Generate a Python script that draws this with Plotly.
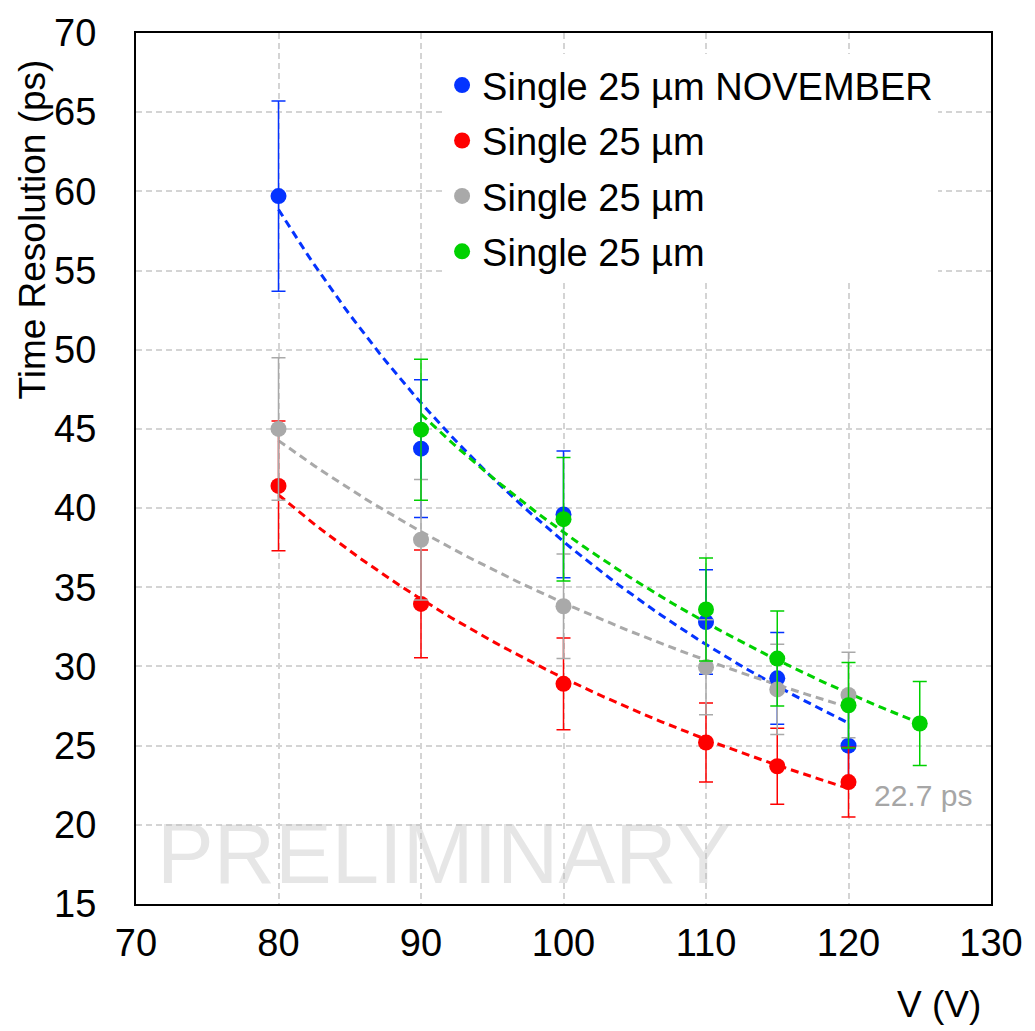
import numpy as np
import plotly.graph_objects as go

# ---- data ----
blue_x = [80, 90, 100, 110, 115, 120]
blue_y = [59.7, 43.75, 39.6, 32.8, 29.25, 25.0]
blue_err = [6.0, 4.35, 4.0, 3.3, 2.9, 2.5]

red_x = [80, 90, 100, 110, 115, 120]
red_y = [41.4, 33.95, 28.9, 25.2, 23.7, 22.7]
red_err = [4.1, 3.4, 2.9, 2.5, 2.4, 2.2]

gray_x = [80, 90, 100, 110, 115, 120]
gray_y = [45.0, 38.0, 33.8, 29.95, 28.55, 28.2]
gray_err = [4.5, 3.8, 3.3, 3.0, 2.85, 2.7]

green_x = [90, 100, 110, 115, 120, 125]
green_y = [44.95, 39.3, 33.6, 30.5, 27.55, 26.4]
green_err = [4.45, 3.9, 3.25, 3.0, 2.7, 2.65]

names = ["Single 25 µm NOVEMBER", "Single 25 µm", "Single 25 µm", "Single 25 µm"]
colors = ["#0433ff", "#fe0000", "#a9a9a9", "#00d100"]

x_ticks = [70, 80, 90, 100, 110, 120, 130]
y_ticks = [15, 20, 25, 30, 35, 40, 45, 50, 55, 60, 65, 70]

FONT = "Liberation Sans"

series = [
    (blue_x, blue_y, blue_err),
    (red_x, red_y, red_err),
    (gray_x, gray_y, gray_err),
    (green_x, green_y, green_err),
]

fig = go.Figure()

# power-law trend lines (fit in log-log space, like a spreadsheet power trendline)
for (xs, ys, _), col in zip(series, colors):
    lx = np.log(np.array(xs, float))
    ly = np.log(np.array(ys, float))
    b, a = np.polyfit(lx, ly, 1)
    xf = np.linspace(min(xs), max(xs), 80)
    yf = np.exp(a) * xf ** b
    fig.add_trace(go.Scatter(
        x=xf, y=yf, mode="lines", showlegend=False, hoverinfo="skip",
        line=dict(color=col, width=3, dash="8px,5px"),
    ))

# data points with error bars
for (xs, ys, es), col, nm in zip(series, colors, names):
    fig.add_trace(go.Scatter(
        x=xs, y=ys, mode="markers", name=nm, showlegend=False,
        marker=dict(color=col, size=16),
        error_y=dict(type="data", array=es, visible=True, color=col,
                     thickness=1.5, width=7),
    ))

# legend entries
for i, (col, nm) in enumerate(zip(colors, names)):
    fig.add_trace(go.Scatter(
        x=[None], y=[None], mode="markers", name=nm, legendgroup=f"g{i}",
        marker=dict(color=col, size=16),
    ))

axis_common = dict(
    showline=True, linecolor="black", linewidth=2, mirror=True,
    showgrid=True, gridcolor="#d4d4d4", gridwidth=1.5, griddash="6px,4px",
    zeroline=False, ticks="",
    tickfont=dict(family=FONT, size=38, color="black"),
)

fig.update_xaxes(range=[70, 130], tickvals=x_ticks, ticklabelstandoff=4, **axis_common)
fig.update_yaxes(range=[15, 70], tickvals=y_ticks, ticklabelstandoff=30, **axis_common)

fig.update_layout(
    width=1035, height=1031,
    margin=dict(l=136, r=42, t=28, b=127),
    plot_bgcolor="white", paper_bgcolor="white",
    font=dict(family=FONT, color="black"),
    legend=dict(
        x=0.358, y=0.976, xanchor="left", yanchor="top",
        bgcolor="white", borderwidth=0, tracegroupgap=3,
        font=dict(family=FONT, size=38, color="black"),
        itemclick=False,
    ),
    annotations=[
        dict(text="PRELIMINARY", xref="paper", yref="paper", x=0.361, y=0.0582,
             showarrow=False, font=dict(family=FONT, size=85, color="rgba(190,190,190,0.38)"),
             xanchor="center", yanchor="middle"),
        dict(text="22.7 ps", xref="x", yref="y", x=125.2, y=21.84,
             showarrow=False, font=dict(family=FONT, size=30, color="#a6a6a6"),
             xanchor="center", yanchor="middle"),
        dict(text="Time Resolution (ps)", xref="paper", yref="paper", x=-0.1208, y=0.774,
             textangle=-90, showarrow=False, font=dict(family=FONT, size=37, color="black"),
             xanchor="center", yanchor="middle"),
        dict(text="V (V)", xref="paper", yref="paper", x=0.9387, y=-0.1153,
             showarrow=False, font=dict(family=FONT, size=37, color="black"),
             xanchor="center", yanchor="middle"),
    ],
)

fig.write_html("out.html")
